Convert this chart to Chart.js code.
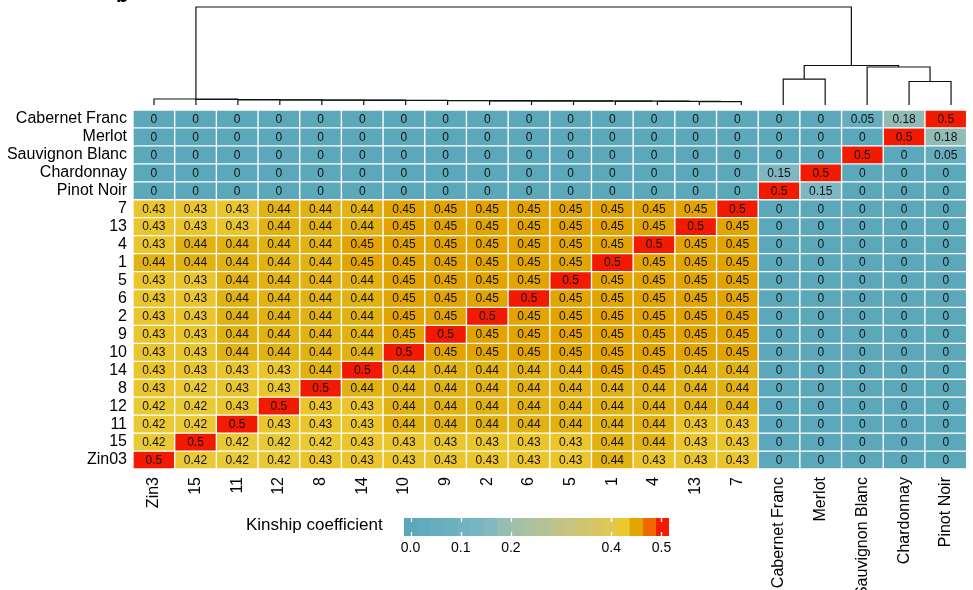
<!DOCTYPE html>
<html>
<head>
<meta charset="utf-8">
<script src="https://cdn.jsdelivr.net/npm/chart.js@4.4.1/dist/chart.umd.min.js"></script>
<style>
  html, body { margin: 0; padding: 0; background: #fff; }
  #wrap { position: relative; width: 973px; height: 590px; overflow: hidden; font-family: "Liberation Sans", Arial, sans-serif; }
  canvas { position: absolute; }
  #panel { position: absolute; left: 116px; top: -15px; font: bold 20px "Liberation Sans", Arial, sans-serif; line-height: 20px; color: #000; }
  #keyTitle { position: absolute; left: 246px; top: 515px; font-size: 17px; line-height: 20px; color: #000; }
</style>
</head>
<body>
<div id="wrap">
  <div id="panel">b</div>
  <canvas id="heat" width="973" height="590" style="left:0;top:0"></canvas>
  <canvas id="dend" width="973" height="110" style="left:0;top:0"></canvas>
  <div id="keyTitle">Kinship coefficient</div>
  <canvas id="key" width="320" height="60" style="left:380px;top:505px"></canvas>
</div>
<script>
// ---- data ----
const colLabels = ['Zin3', '15', '11', '12', '8', '14', '10', '9', '2', '6', '5', '1', '4', '13', '7',
  'Cabernet Franc', 'Merlot', 'Sauvignon Blanc', 'Chardonnay', 'Pinot Noir'];
const rowLabels = ['Cabernet Franc', 'Merlot', 'Sauvignon Blanc', 'Chardonnay', 'Pinot Noir',
  '7', '13', '4', '1', '5', '6', '2', '9', '10', '14', '8', '12', '11', '15', 'Zin03'];

// pairwise kinship, one array per row (columns follow colLabels)
const kinship = [
  [0, 0, 0, 0, 0, 0, 0, 0, 0, 0, 0, 0, 0, 0, 0, 0, 0, 0.05, 0.18, 0.5],
  [0, 0, 0, 0, 0, 0, 0, 0, 0, 0, 0, 0, 0, 0, 0, 0, 0, 0, 0.5, 0.18],
  [0, 0, 0, 0, 0, 0, 0, 0, 0, 0, 0, 0, 0, 0, 0, 0, 0, 0.5, 0, 0.05],
  [0, 0, 0, 0, 0, 0, 0, 0, 0, 0, 0, 0, 0, 0, 0, 0.15, 0.5, 0, 0, 0],
  [0, 0, 0, 0, 0, 0, 0, 0, 0, 0, 0, 0, 0, 0, 0, 0.5, 0.15, 0, 0, 0],
  [0.43, 0.43, 0.43, 0.44, 0.44, 0.44, 0.45, 0.45, 0.45, 0.45, 0.45, 0.45, 0.45, 0.45, 0.5, 0, 0, 0, 0, 0],
  [0.43, 0.43, 0.43, 0.44, 0.44, 0.44, 0.45, 0.45, 0.45, 0.45, 0.45, 0.45, 0.45, 0.5, 0.45, 0, 0, 0, 0, 0],
  [0.43, 0.44, 0.44, 0.44, 0.44, 0.45, 0.45, 0.45, 0.45, 0.45, 0.45, 0.45, 0.5, 0.45, 0.45, 0, 0, 0, 0, 0],
  [0.44, 0.44, 0.44, 0.44, 0.44, 0.45, 0.45, 0.45, 0.45, 0.45, 0.45, 0.5, 0.45, 0.45, 0.45, 0, 0, 0, 0, 0],
  [0.43, 0.43, 0.44, 0.44, 0.44, 0.44, 0.45, 0.45, 0.45, 0.45, 0.5, 0.45, 0.45, 0.45, 0.45, 0, 0, 0, 0, 0],
  [0.43, 0.43, 0.44, 0.44, 0.44, 0.44, 0.45, 0.45, 0.45, 0.5, 0.45, 0.45, 0.45, 0.45, 0.45, 0, 0, 0, 0, 0],
  [0.43, 0.43, 0.44, 0.44, 0.44, 0.44, 0.45, 0.45, 0.5, 0.45, 0.45, 0.45, 0.45, 0.45, 0.45, 0, 0, 0, 0, 0],
  [0.43, 0.43, 0.44, 0.44, 0.44, 0.44, 0.45, 0.5, 0.45, 0.45, 0.45, 0.45, 0.45, 0.45, 0.45, 0, 0, 0, 0, 0],
  [0.43, 0.43, 0.44, 0.44, 0.44, 0.44, 0.5, 0.45, 0.45, 0.45, 0.45, 0.45, 0.45, 0.45, 0.45, 0, 0, 0, 0, 0],
  [0.43, 0.43, 0.43, 0.43, 0.44, 0.5, 0.44, 0.44, 0.44, 0.44, 0.44, 0.45, 0.45, 0.44, 0.44, 0, 0, 0, 0, 0],
  [0.43, 0.42, 0.43, 0.43, 0.5, 0.44, 0.44, 0.44, 0.44, 0.44, 0.44, 0.44, 0.44, 0.44, 0.44, 0, 0, 0, 0, 0],
  [0.42, 0.42, 0.43, 0.5, 0.43, 0.43, 0.44, 0.44, 0.44, 0.44, 0.44, 0.44, 0.44, 0.44, 0.44, 0, 0, 0, 0, 0],
  [0.42, 0.42, 0.5, 0.43, 0.43, 0.43, 0.44, 0.44, 0.44, 0.44, 0.44, 0.44, 0.44, 0.43, 0.43, 0, 0, 0, 0, 0],
  [0.42, 0.5, 0.42, 0.42, 0.42, 0.43, 0.43, 0.43, 0.43, 0.43, 0.43, 0.44, 0.44, 0.43, 0.43, 0, 0, 0, 0, 0],
  [0.5, 0.42, 0.42, 0.42, 0.43, 0.43, 0.43, 0.43, 0.43, 0.43, 0.43, 0.44, 0.43, 0.43, 0.43, 0, 0, 0, 0, 0]
];

// column clustering, hclust style: negative = leaf (1-based column), positive = earlier merge (1-based)
const dendMerge = [
  [-14, -15], [-13, 1], [-12, 2], [-11, 3], [-10, 4], [-9, 5], [-8, 6], [-7, 7],
  [-6, 8], [-5, 9], [-4, 10], [-3, 11], [-2, 12], [-1, 13],
  [-16, -17], [-19, -20], [-18, 16], [15, 17], [14, 18]
];
const dendHeight = [
  0.035, 0.037, 0.039, 0.040, 0.042, 0.043, 0.044, 0.046, 0.047, 0.049, 0.051, 0.053, 0.056, 0.061,
  0.265, 0.240, 0.388, 0.403, 1.0
];

// colour key
const keyTicks = [0, 0.1, 0.2, 0.4, 0.5];
const keyRange = [-0.013, 0.515];
const keyBins = 20;

// ---- colour scale ----
const colourStops = [
  [0.00, '#5BA8BA'], [0.10, '#70B2C2'], [0.15, '#7DB7C4'], [0.20, '#9EBFAC'],
  [0.30, '#C2C388'], [0.40, '#E0C852'], [0.42, '#E9C934'], [0.43, '#EAC52B'],
  [0.44, '#E2B212'], [0.45, '#E3A300'], [0.47, '#EE7A00'], [0.50, '#F21A00']
];
function hexRgb(h) { return [1, 3, 5].map(i => parseInt(h.substr(i, 2), 16)); }
function colourFor(v) {
  if (v <= colourStops[0][0]) return colourStops[0][1];
  for (let i = 1; i < colourStops.length; i++) {
    const [v1, c1] = colourStops[i];
    if (v <= v1) {
      const [v0, c0] = colourStops[i - 1];
      const t = (v - v0) / (v1 - v0);
      const a = hexRgb(c0), b = hexRgb(c1);
      return 'rgb(' + a.map((x, k) => Math.round(x + (b[k] - x) * t)).join(',') + ')';
    }
  }
  return colourStops[colourStops.length - 1][1];
}

const FONT = '"Liberation Sans", Arial, sans-serif';

// ---- heatmap ----
const heatSets = rowLabels.map((name, r) => ({
  label: name,
  data: colLabels.map(() => [r - 0.5, r + 0.5]),
  values: kinship[r],
  backgroundColor: kinship[r].map(colourFor),
  borderColor: '#ffffff',
  borderWidth: 1,
  borderSkipped: false,
  barPercentage: 1,
  categoryPercentage: 1,
  grouped: false
}));

const cellText = {
  id: 'cellText',
  afterDatasetsDraw(chart) {
    const ctx = chart.ctx;
    ctx.save();
    ctx.font = '12px ' + FONT;
    ctx.fillStyle = '#111';
    ctx.textAlign = 'center';
    ctx.textBaseline = 'middle';
    chart.data.datasets.forEach((ds, r) => {
      chart.getDatasetMeta(r).data.forEach((el, j) => {
        ctx.fillText(String(ds.values[j]), el.x, (el.y + el.base) / 2 + 0.5);
      });
    });
    ctx.restore();
  }
};

new Chart(document.getElementById('heat'), {
  type: 'bar',
  data: { labels: colLabels, datasets: heatSets },
  plugins: [cellText],
  options: {
    responsive: false,
    animation: false,
    devicePixelRatio: 1,
    layout: { padding: { top: 110, right: 1, left: 0, bottom: 0 } },
    plugins: { legend: { display: false }, tooltip: { enabled: false } },
    scales: {
      x: {
        type: 'category',
        grid: { display: false, drawTicks: false },
        border: { display: false },
        ticks: {
          autoSkip: false, minRotation: 90, maxRotation: 90, padding: 8,
          color: '#000', font: { family: FONT, size: 16 }
        },
        afterFit(s) { s.height = 121; }
      },
      y: {
        type: 'linear',
        reverse: true,
        min: -0.5,
        max: 19.5,
        grid: { display: false, drawTicks: false },
        border: { display: false },
        afterBuildTicks(s) { s.ticks = rowLabels.map((_, i) => ({ value: i })); },
        ticks: {
          autoSkip: false, padding: 6, color: '#000',
          font: { family: FONT, size: 16 },
          callback: v => rowLabels[v]
        },
        afterFit(s) { s.width = 133; }
      }
    }
  }
});

// ---- dendrogram over the columns ----
const nodes = [];
const dendSets = [];
dendMerge.forEach(([a, b], k) => {
  const ca = a < 0 ? { x: -a - 1, h: 0 } : nodes[a - 1];
  const cb = b < 0 ? { x: -b - 1, h: 0 } : nodes[b - 1];
  const h = dendHeight[k];
  nodes.push({ x: (ca.x + cb.x) / 2, h });
  dendSets.push({
    data: [{ x: ca.x, y: ca.h }, { x: ca.x, y: h }, { x: cb.x, y: h }, { x: cb.x, y: cb.h }],
    borderColor: '#111',
    borderWidth: 1.2,
    pointRadius: 0,
    showLine: true,
    tension: 0,
    clip: false
  });
});

new Chart(document.getElementById('dend'), {
  type: 'scatter',
  data: { datasets: dendSets },
  options: {
    responsive: false,
    animation: false,
    devicePixelRatio: 1,
    layout: { padding: { top: 7, right: 1, left: 133, bottom: 5 } },
    plugins: { legend: { display: false }, tooltip: { enabled: false } },
    scales: {
      x: { type: 'linear', min: -0.5, max: 19.5, display: false },
      y: { type: 'linear', min: 0, max: 1, display: false }
    }
  }
});

// ---- colour key ----
const keyStep = (keyRange[1] - keyRange[0]) / keyBins;
const keySets = [];
for (let k = 0; k < keyBins; k++) {
  const lo = keyRange[0] + k * keyStep, hi = lo + keyStep;
  keySets.push({
    data: [[lo, hi]],
    backgroundColor: colourFor((lo + hi) / 2),
    borderWidth: 0,
    barPercentage: 1,
    categoryPercentage: 1,
    grouped: false
  });
}

// short white notches on the top and bottom edge of the key at each tick
const keyNotches = {
  id: 'keyNotches',
  afterDatasetsDraw(chart) {
    const { ctx, chartArea } = chart;
    const xs = chart.scales.x;
    ctx.save();
    ctx.strokeStyle = '#ffffff';
    ctx.lineWidth = 1.3;
    keyTicks.forEach(v => {
      const px = Math.round(xs.getPixelForValue(v)) + 0.5;
      ctx.beginPath();
      ctx.moveTo(px, chartArea.top);
      ctx.lineTo(px, chartArea.top + 4);
      ctx.moveTo(px, chartArea.bottom - 4);
      ctx.lineTo(px, chartArea.bottom);
      ctx.stroke();
    });
    ctx.restore();
  }
};

new Chart(document.getElementById('key'), {
  type: 'bar',
  data: { labels: ['kinship'], datasets: keySets },
  plugins: [keyNotches],
  options: {
    indexAxis: 'y',
    responsive: false,
    animation: false,
    devicePixelRatio: 1,
    layout: { padding: { top: 13, right: 31, left: 24, bottom: 0 } },
    plugins: { legend: { display: false }, tooltip: { enabled: false } },
    scales: {
      x: {
        type: 'linear',
        min: keyRange[0],
        max: keyRange[1],
        grid: { display: false, drawTicks: false },
        border: { display: false },
        afterBuildTicks(s) { s.ticks = keyTicks.map(v => ({ value: v })); },
        ticks: {
          padding: 4, color: '#000', font: { family: FONT, size: 14 },
          callback: v => v.toFixed(1)
        },
        afterFit(s) { s.height = 29; }
      },
      y: { display: false }
    }
  }
});
</script>
</body>
</html>
